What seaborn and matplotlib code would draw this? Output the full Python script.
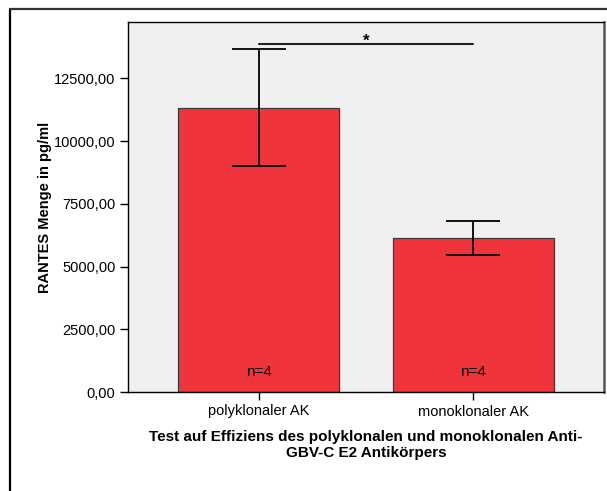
import matplotlib
matplotlib.use("Agg")
import matplotlib.pyplot as plt
import seaborn as sns
import pandas as pd
from matplotlib.lines import Line2D

categories = ["polyklonaler AK", "monoklonaler AK"]
means = [11330, 6140]
err_upper = [13680, 6815]
err_lower = [9010, 5460]
n_labels = ["n=4", "n=4"]
yticks = [0, 2500, 5000, 7500, 10000, 12500]
sig_y = 13880

sns.set_theme(style="white")
plt.rcParams['font.family'] = ['Liberation Sans', 'DejaVu Sans']

df = pd.DataFrame({"cat": categories, "val": means})

fig = plt.figure(figsize=(6.07, 4.91), dpi=100)
ax = fig.add_axes([128/607, (491-392)/491, (604-128)/607, (392-22)/491])
ax.set_facecolor("#F0F0F0")

sns.barplot(data=df, x="cat", y="val", ax=ax, color="#F0343C", saturation=1,
            width=0.75, edgecolor="#3a3a3a", linewidth=0.9, errorbar=None)

yerr = [[m - lo for m, lo in zip(means, err_lower)],
        [hi - m for m, hi in zip(means, err_upper)]]
ax.errorbar(range(len(categories)), means, yerr=yerr, fmt="none",
            ecolor="black", elinewidth=1.3, capsize=27*72/100, capthick=1.3)

for i, t in enumerate(n_labels):
    ax.text(i, 800, t, ha="center", va="center", fontsize=11, color="black")

ax.plot([0, 1], [sig_y, sig_y], color="#222222", lw=1.5)
ax.text(0.5, sig_y - 180, "*", ha="center", va="bottom", fontsize=12,
        fontweight="bold", color="black")

ax.set_xlim(-0.61, 1.61)
ax.set_ylim(0, 14750)
ax.set_yticks(yticks)
ax.set_yticklabels([f"{v:.2f}".replace(".", ",") for v in yticks], fontsize=10.5)
ax.set_xticks(range(len(categories)))
ax.set_xticklabels(categories, fontsize=10.5)
ax.tick_params(axis="both", direction="out", length=6, width=1, color="black",
               labelcolor="black", left=True, bottom=True, pad=3)
ax.set_xlabel("Test auf Effiziens des polyklonalen und monoklonalen Anti-\nGBV-C E2 Antikörpers",
              fontsize=11, fontweight="bold", labelpad=8, linespacing=1.2, color="black")
ax.set_ylabel("RANTES Menge in pg/ml", fontsize=10.5, fontweight="bold", labelpad=1, color="black")

for s in ["left", "bottom", "top"]:
    ax.spines[s].set_color("black")
    ax.spines[s].set_linewidth(1.0)
ax.spines["right"].set_color("#555555")
ax.spines["right"].set_linewidth(1.8)

# outer frame (left and top edges)
fig.add_artist(Line2D([10/607, 10/607], [0, 1 - 9/491], transform=fig.transFigure,
                      color="black", lw=1.6))
fig.add_artist(Line2D([10/607, 1], [1 - 9/491, 1 - 9/491], transform=fig.transFigure,
                      color="#333333", lw=1.6))

fig.savefig("out.png", dpi=100)
